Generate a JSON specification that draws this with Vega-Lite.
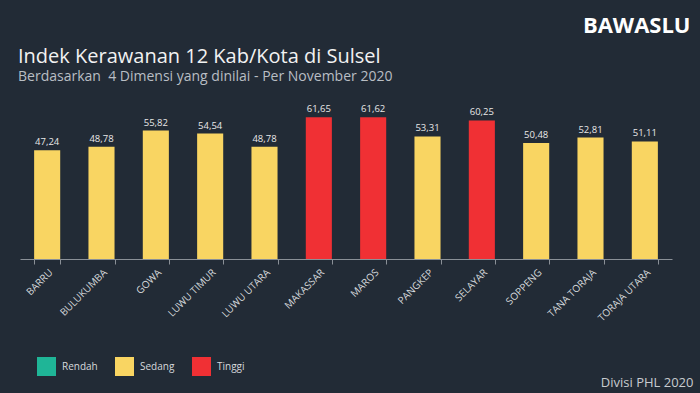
{
  "$schema": "https://vega.github.io/schema/vega-lite/v6.json",
  "width": 652,
  "height": 161,
  "autosize": {"type": "none"},
  "padding": {"left": 20, "top": 98, "right": 28, "bottom": 134},
  "background": "#222b36",
  "config": {
    "view": {"stroke": null},
    "font": "Open Sans",
    "locale": {"number": {"decimal": ",", "thousands": ".", "grouping": [3], "currency": ["", ""]}}
  },
  "title": {
    "text": "Indek Kerawanan 12 Kab/Kota di Sulsel",
    "subtitle": "Berdasarkan\u00a0\u00a04 Dimensi yang dinilai - Per November 2020",
    "anchor": "start",
    "frame": "group",
    "offset": -70,
    "dx": -2,
    "fontSize": 20,
    "fontWeight": "normal",
    "color": "#f2f2f2",
    "subtitleFontSize": 14,
    "subtitleColor": "#b9bec4",
    "subtitlePadding": 3
  },
  "data": {
    "values": [
      {"kab": "BARRU", "nilai": 47.24, "kategori": "Sedang"},
      {"kab": "BULUKUMBA", "nilai": 48.78, "kategori": "Sedang"},
      {"kab": "GOWA", "nilai": 55.82, "kategori": "Sedang"},
      {"kab": "LUWU TIMUR", "nilai": 54.54, "kategori": "Sedang"},
      {"kab": "LUWU UTARA", "nilai": 48.78, "kategori": "Sedang"},
      {"kab": "MAKASSAR", "nilai": 61.65, "kategori": "Tinggi"},
      {"kab": "MAROS", "nilai": 61.62, "kategori": "Tinggi"},
      {"kab": "PANGKEP", "nilai": 53.31, "kategori": "Sedang"},
      {"kab": "SELAYAR", "nilai": 60.25, "kategori": "Tinggi"},
      {"kab": "SOPPENG", "nilai": 50.48, "kategori": "Sedang"},
      {"kab": "TANA TORAJA", "nilai": 52.81, "kategori": "Sedang"},
      {"kab": "TORAJA UTARA", "nilai": 51.11, "kategori": "Sedang"}
    ]
  },
  "encoding": {
    "x": {
      "field": "kab",
      "type": "nominal",
      "sort": null,
      "scale": {"paddingInner": 0.52, "paddingOuter": 0.26},
      "axis": {
        "title": "Divisi PHL 2020",
        "titleAnchor": "end",
        "titleAlign": "right",
        "titleBaseline": "alphabetic",
        "titleFontSize": 13,
        "titleFontWeight": "normal",
        "titleColor": "#c8ccd0",
        "titleY": 127,
        "titleX": 673,
        "labelAngle": -45,
        "labelFontSize": 10,
        "labelColor": "#d6d9dc",
        "labelPadding": 3,
        "domainColor": "#8a9097",
        "tickColor": "#8a9097",
        "tickBand": "extent",
        "tickSize": 5,
        "grid": false
      }
    },
    "y": {
      "field": "nilai",
      "type": "quantitative",
      "scale": {"domain": [0, 70]},
      "axis": {
        "orient": "right",
        "labels": false,
        "ticks": false,
        "domain": false,
        "grid": false,
        "title": "BAWASLU",
        "titleAngle": 0,
        "titleAlign": "right",
        "titleBaseline": "alphabetic",
        "titleX": 18,
        "titleY": -66,
        "titleFontSize": 22,
        "titleFontWeight": "bold",
        "titleColor": "#ffffff"
      }
    }
  },
  "layer": [
    {
      "mark": {"type": "bar"},
      "encoding": {
        "color": {
          "field": "kategori",
          "type": "nominal",
          "scale": {"domain": ["Rendah", "Sedang", "Tinggi"], "range": ["#1fb597", "#f9d562", "#f03034"]},
          "legend": {
            "title": null,
            "orient": "none",
            "legendX": 17,
            "legendY": 259,
            "direction": "horizontal",
            "symbolType": "square",
            "symbolSize": 361,
            "symbolStrokeWidth": 0,
            "labelColor": "#d6d9dc",
            "labelFontSize": 10,
            "columnPadding": 17,
            "labelOffset": 6
          }
        }
      }
    },
    {
      "mark": {"type": "text", "dy": -8, "fontSize": 9.5, "color": "#e8e8e8"},
      "encoding": {"text": {"field": "nilai", "type": "quantitative", "format": ".2f"}}
    }
  ]
}
